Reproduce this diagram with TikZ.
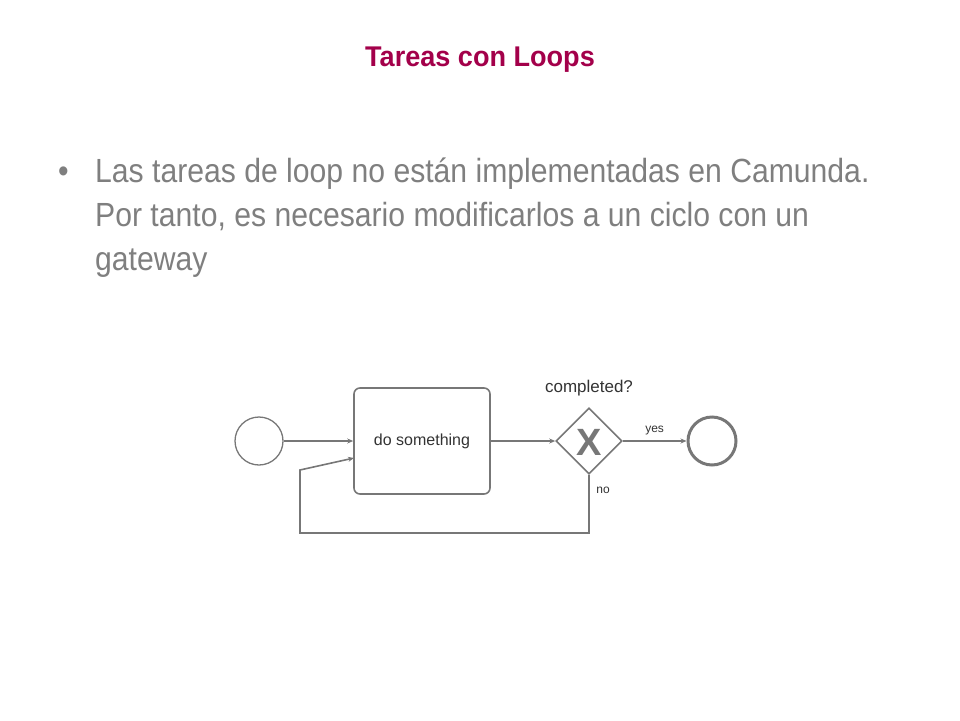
\documentclass[tikz,border=0pt]{standalone}
\usepackage{fontspec}
\setmainfont{Liberation Sans}
\newfontfamily\narrowfont[FakeStretch=0.9]{Liberation Sans}
\newfontfamily\titlefont[FakeStretch=0.95]{Liberation Sans}
\usetikzlibrary{shapes.geometric,arrows.meta}
\definecolor{titlered}{HTML}{A3004A}
\definecolor{bodygray}{HTML}{7F7F7F}
\definecolor{linegray}{HTML}{777777}
\begin{document}
\begin{tikzpicture}[x=1pt,y=-1pt,
  flow/.style={draw=linegray,line width=1.6pt,-{Stealth[length=6pt,width=5pt]}},
  bodytext/.style={anchor=base west,inner sep=0,text=bodygray,font=\narrowfont\fontsize{33.5}{36}\selectfont}]
\useasboundingbox (0,0) rectangle (960,720);
\node[font=\titlefont\bfseries\fontsize{28.5}{32}\selectfont,text=titlered] (title) at (480,60) {Tareas con Loops};
\node[bodytext] (bul) at (58,182) {•};
\node[bodytext] (l1) at (95,182) {Las tareas de loop no están implementadas en Camunda.};
\node[bodytext] (l2) at (95,226) {Por tanto, es necesario modificarlos a un ciclo con un};
\node[bodytext] (l3) at (95,270) {gateway};
\node[circle,draw=linegray,line width=1.3pt,minimum size=48pt,inner sep=0] (start) at (259,441) {};
\node[draw=linegray,line width=1.6pt,rounded corners=6pt,minimum width=136pt,minimum height=106pt,font=\fontsize{16}{18}\selectfont,text=black!80] (task) at (422,441) {do something};
\node[diamond,draw=linegray,line width=1.6pt,minimum size=66pt,inner sep=0,aspect=1] (gw) at (589,441) {};
\node[font=\bfseries\fontsize{38}{40}\selectfont,text=linegray] (x) at (589,442) {X};
\node[font=\fontsize{17}{19}\selectfont,text=black!80] (cq) at (589,388) {completed?};
\node[circle,draw=linegray,line width=3pt,minimum size=48pt,inner sep=0] (end) at (712,441) {};
\coordinate (t2) at (354,458);
\draw[flow] (start) -- (task.west|-start);
\draw[flow] (task.east|-gw) -- (gw.west);
\draw[flow] (gw.east) -- node[above,font=\fontsize{12}{14}\selectfont,text=black!80,yshift=2pt]{yes} (end.west);
\draw[flow] (gw.south) -- (589,533) -- (300,533) -- (300,470) -- (t2);
\node[font=\fontsize{12}{14}\selectfont,text=black!80] (no) at (603,490) {no};
\end{tikzpicture}
\end{document}
